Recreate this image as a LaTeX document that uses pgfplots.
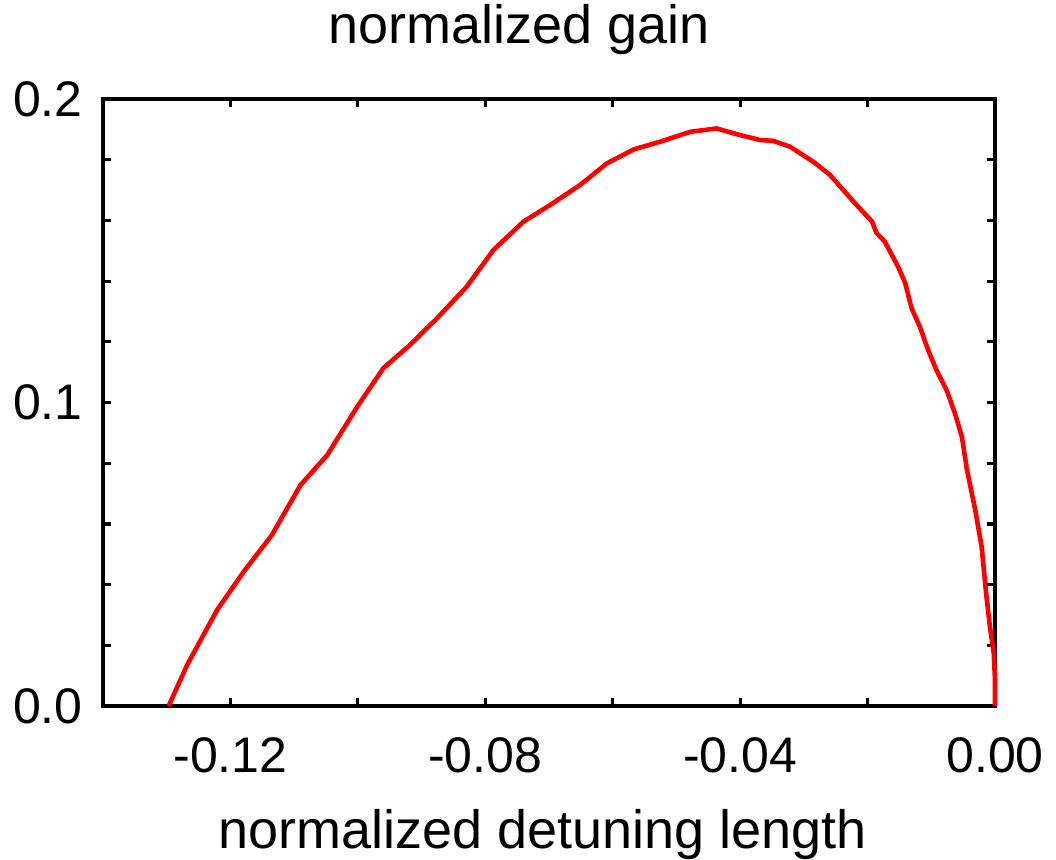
\documentclass[border=0pt]{standalone}
\usepackage{fontspec}
\setmainfont{Liberation Sans}
\usepackage{pgfplots}
\pgfplotsset{compat=1.18}
\begin{document}
\begin{tikzpicture}
\path[use as bounding box] (-51.5pt,-76.5pt) rectangle (476.5pt,353pt);
\begin{axis}[
  at={(0pt,0pt)}, anchor=south west,
  scale only axis,
  width=446pt, height=303.5pt,
  xmin=-0.14, xmax=0, ymin=0, ymax=0.2,
  axis line style={line width=2.2pt, line cap=rect},
  xtick={-0.12,-0.08,-0.04,0},
  xticklabels={-0.12,-0.08,-0.04,0.00},
  minor xtick={-0.10,-0.06,-0.02},
  ytick={0,0.1,0.2},
  yticklabels={0.0,0.1,0.2},
  minor ytick={0.02,0.04,0.06,0.08,0.12,0.14,0.16,0.18},
  tick align=inside,
  tick pos=both,
  major tick length=4pt, minor tick length=4pt,
  every tick/.style={black, line width=1.6pt},
  every minor tick/.style={black, line width=1.6pt},
  /pgf/number format/assume math mode=true,
  ticklabel style={font=\fontsize{25}{30}\selectfont},
  xticklabel style={anchor=base, inner sep=0pt, yshift=-33pt},
  yticklabel style={anchor=east, inner sep=0pt, xshift=-10pt},
  title={normalized gain},
  title style={font=\fontsize{27}{32}\selectfont, at={(axis description cs:0.466,1)}, anchor=base, yshift=22pt, inner sep=0pt},
  xlabel={normalized detuning length},
  xlabel style={font=\fontsize{27}{32}\selectfont, at={(axis description cs:0.493,0)}, anchor=base, yshift=-71pt, inner sep=0pt},
  clip=false,
]
\addplot[color={rgb,255:red,255;green,0;blue,0}, line width=2.3pt, line join=round] coordinates {
(-0.1297,0)
(-0.1268,0.0135)
(-0.1221,0.0316)
(-0.1179,0.0443)
(-0.1135,0.0563)
(-0.1090,0.0728)
(-0.1048,0.0827)
(-0.1001,0.0986)
(-0.0960,0.1113)
(-0.0918,0.1190)
(-0.0876,0.1277)
(-0.0829,0.1382)
(-0.0787,0.1503)
(-0.0740,0.1596)
(-0.0698,0.1651)
(-0.0651,0.1717)
(-0.0609,0.1788)
(-0.0567,0.1834)
(-0.0526,0.1859)
(-0.0478,0.1892)
(-0.0437,0.1903)
(-0.0400,0.1881)
(-0.0369,0.1865)
(-0.0348,0.1862)
(-0.0322,0.1843)
(-0.0285,0.1793)
(-0.0259,0.1750)
(-0.0220,0.1657)
(-0.0193,0.1596)
(-0.0186,0.1559)
(-0.0173,0.1530)
(-0.0152,0.1447)
(-0.0141,0.1394)
(-0.0131,0.1311)
(-0.0118,0.1250)
(-0.0105,0.1173)
(-0.0092,0.1107)
(-0.0076,0.1041)
(-0.0063,0.0965)
(-0.0052,0.0887)
(-0.0044,0.0778)
(-0.0031,0.0646)
(-0.0021,0.0525)
(-0.0014,0.0372)
(-0.0008,0.0261)
(-0.0002,0.0175)
(0.0000,0.0086)
(0.0000,0)
};
\end{axis}
\end{tikzpicture}
\end{document}
